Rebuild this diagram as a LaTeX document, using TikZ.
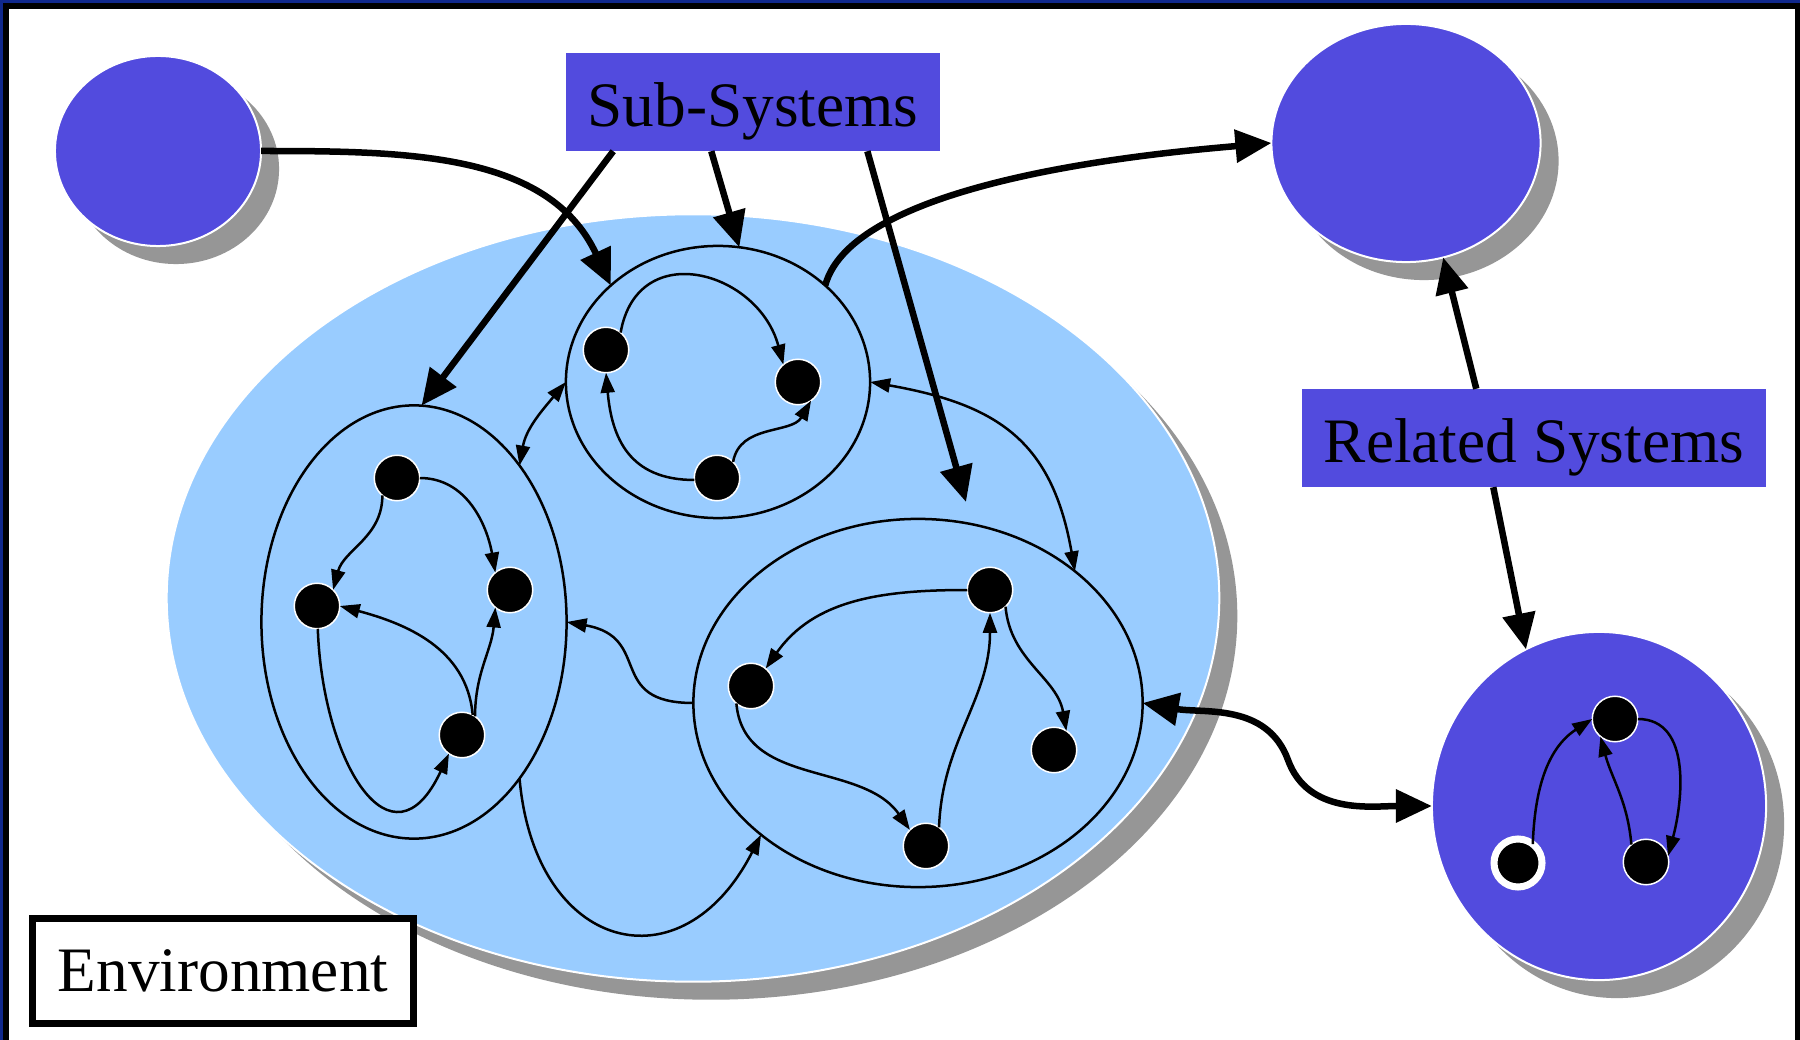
\documentclass[tikz,border=0pt]{standalone}
\usepackage{fontspec}
\setmainfont{Liberation Serif}
\usepackage{xcolor}
\usepackage{tikz}
\usetikzlibrary{arrows.meta}
\usetikzlibrary{shapes.geometric, shadows}

\definecolor{sysblue}{RGB}{82,75,222}
\definecolor{envblue}{RGB}{153,204,255}
\definecolor{shadowgray}{RGB}{150,150,150}
\definecolor{framenavy}{RGB}{16,40,140}

\tikzset{sysnode/.style={ellipse, fill=sysblue, draw=white, line width=0.02cm, inner sep=0pt, outer sep=0pt,
  drop shadow={shadow xshift=0.18cm, shadow yshift=-0.18cm, fill=shadowgray, opacity=1}},
envnode/.style={sysnode, fill=envblue},
subnode/.style={ellipse, draw=black, line width=0.025cm, inner sep=0pt, outer sep=0pt},
%small parts inside the systems
part/.style={circle, fill=black, draw=white, line width=0.015cm, minimum size=0.455cm, inner sep=0pt, outer sep=0pt},
labelbox/.style={rectangle, fill=sysblue, inner sep=0pt, text height=0.62cm, text depth=0.13cm, font=\fontsize{18}{20}\selectfont},
envbox/.style={rectangle, fill=white, draw=black, line width=0.07cm, inner sep=0pt, font=\fontsize{18}{20}\selectfont},
bigarrow/.style={line width=0.065cm, -{Triangle[length=0.36cm,width=0.32cm]}},
bigboth/.style={line width=0.065cm, {Triangle[length=0.36cm,width=0.32cm]}-{Triangle[length=0.36cm,width=0.32cm]}},
smallarrow/.style={line width=0.025cm, -{Triangle[length=0.2cm,width=0.14cm]}},
smallboth/.style={line width=0.025cm, {Triangle[length=0.2cm,width=0.14cm]}-{Triangle[length=0.2cm,width=0.14cm]}}}

\begin{document}
\begin{tikzpicture}[x=0.01cm,y=0.01cm]

%FRAME

 \useasboundingbox (0,0) rectangle (1800,-1040);
 \fill[framenavy] (0,0) rectangle (1800,-1040);
 \fill[black] (3,-3) rectangle (1800,-1040);
 \fill[white] (9,-9) rectangle (1795,-1040);

%Systems and environment

 \node[envnode, minimum width=10.52cm, minimum height=7.67cm] (Env) at (693,-598) {};
 \node[sysnode, minimum width=2.06cm, minimum height=1.90cm] (SysLeft) at (158,-151) {};
 \node[sysnode, minimum width=2.69cm, minimum height=2.38cm] (SysRight) at (1406,-143) {};
 \node[sysnode, minimum width=3.34cm, minimum height=3.48cm] (SysRel) at (1599,-806) {};

 \node[subnode, minimum width=3.04cm, minimum height=2.72cm] (Sub1) at (718,-382) {};
 \node[subnode, minimum width=3.05cm, minimum height=4.33cm] (Sub2) at (414,-622) {};
 \node[subnode, minimum width=4.49cm, minimum height=3.68cm] (Sub3) at (918,-703) {};

%Parts

 \node[part] (Part11) at (606,-350) {};
 \node[part] (Part12) at (798,-382) {};
 \node[part] (Part13) at (717,-478) {};

 \node[part] (Part21) at (397,-478) {};
 \node[part] (Part22) at (317,-606) {};
 \node[part] (Part23) at (510,-590) {};
 \node[part] (Part24) at (462,-735) {};

 \node[part] (Part31) at (751,-686) {};
 \node[part] (Part32) at (990,-590) {};
 \node[part] (Part33) at (1054,-750) {};
 \node[part] (Part34) at (926,-846) {};

 \node[part] (Rel1) at (1615,-719) {};
 \node[part, minimum size=0.48cm, line width=0.07cm] (Rel2) at (1518,-863) {};
 \node[part] (Rel3) at (1646,-862) {};

%Labels

 \node[labelbox, minimum width=3.74cm, minimum height=0.97cm] (SubLabel) at (753,-102) {Sub-Systems};
 \node[labelbox, minimum width=4.64cm, minimum height=0.97cm] (RelLabel) at (1534,-438) {Related Systems};
 \node[envbox, minimum width=3.80cm, minimum height=1.04cm] (EnvLabel) at (223,-971) {Environment};

%Links inside the subsystems

 \draw[smallarrow] (Part11.50) to[out=80,in=105,looseness=1.5] (Part12.130);
 \draw[smallarrow] (Part13.185) to[out=180,in=-85,looseness=1.2] (Part11.-90);
 \draw[smallarrow] (Part13.45) to[out=80,in=-120] (Part12.-55);

 \draw[smallarrow] (Part21.0) to[out=0,in=100] (Part23.130);
 \draw[smallarrow] (Part21.-130) to[out=-90,in=75] (Part22.45);
 \draw[smallarrow] (Part24.62) to[out=95,in=-15] (Part22.0);
 \draw[smallarrow] (Part24.55) to[out=90,in=-95] (Part23.-130);
 \draw[smallarrow] (Part22.-88) to[out=-88,in=-115,looseness=1.9] (Part24.-125);

 \draw[smallarrow] (Part32.180) to[out=180,in=55] (Part31.50);
 \draw[smallarrow] (Part32.-47) to[out=-85,in=100] (Part33.57);
 \draw[smallarrow] (Part34.55) to[out=88,in=-90] (Part32.-90);
 \draw[smallarrow] (Part31.-130) to[out=-85,in=125] (Part34.135);

 \draw[smallarrow] (Rel2.52) to[out=88,in=-147] (Rel1.180);
 \draw[smallarrow] (Rel3.130) to[out=95,in=-75] (Rel1.-130);
 \draw[smallarrow] (Rel1.0) to[out=0,in=75] (Rel3.15);

%Links between the subsystems

 \draw[smallboth] (Sub1.west) to[out=-130,in=80] (Sub2.56);
 \draw[smallboth] (Sub1.east) to[out=-10,in=100,looseness=1.2] (Sub3.40);
 \draw[smallarrow] (Sub3.west) to[out=180,in=-10,looseness=1.5] (Sub2.east);
 \draw[smallarrow] (Sub2.-56) to[out=-85,in=-117,looseness=1.8] (Sub3.-140);

%Big arrows

 \coordinate (SubTip) at (966,-502);
 \coordinate (EnvLinkMid) at (1288,-760);

 \draw[bigarrow] (SysLeft.east) to[out=0,in=115] (Sub1.138);
 \draw[bigarrow] ([xshift=0.48cm]SubLabel.south west) -- (Sub2.88);
 \draw[bigarrow] ([xshift=1.46cm]SubLabel.south west) -- (Sub1.81);
 \draw[bigarrow] ([xshift=3.02cm]SubLabel.south west) -- (SubTip);
 \draw[bigarrow] (Sub1.42) to[out=75,in=185,looseness=0.6] (SysRight.west);
 \draw[bigarrow] ([xshift=1.75cm]RelLabel.north west) -- (SysRight.-72);
 \draw[bigarrow] ([xshift=1.92cm]RelLabel.south west) -- (SysRel.115);
 \draw[bigboth] (Sub3.east) to[out=-10,in=110] (EnvLinkMid) to[out=-70,in=180] (SysRel.west);

\end{tikzpicture}
\end{document}
